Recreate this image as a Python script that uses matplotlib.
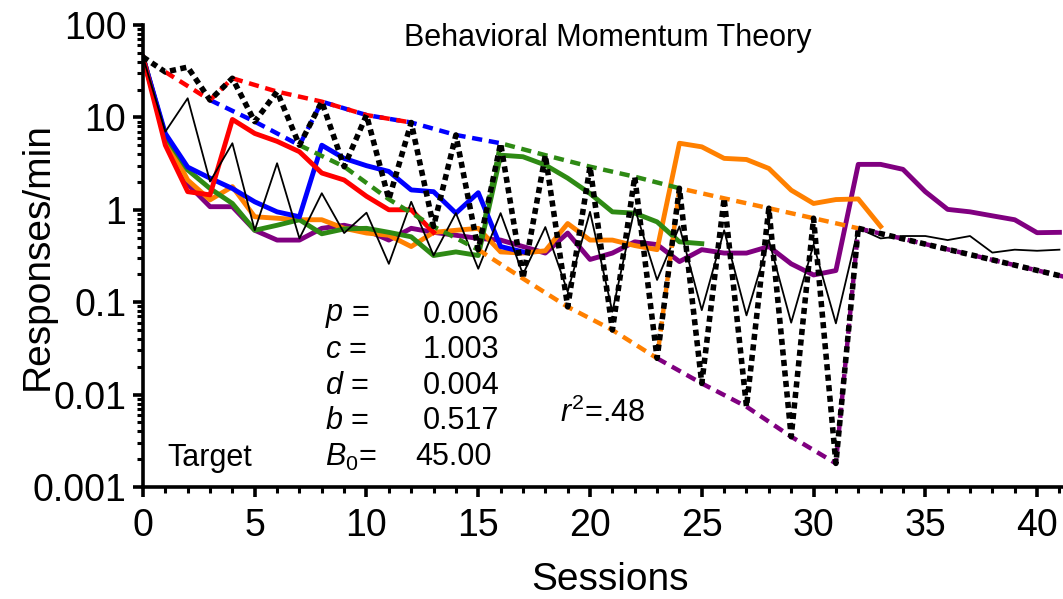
import matplotlib
matplotlib.use('Agg')
import matplotlib.pyplot as plt
from matplotlib.ticker import MultipleLocator, LogLocator, NullFormatter, FixedFormatter, FixedLocator

plt.rcParams['font.family'] = ['Liberation Sans', 'DejaVu Sans']
plt.rcParams['mathtext.fontset'] = 'custom'
plt.rcParams['mathtext.rm'] = 'Liberation Sans'
plt.rcParams['mathtext.it'] = 'Liberation Sans:italic'

# ── data ─────────────────────────────────────────────────────────────────────
sessions = list(range(42))

red = [45, 5.0, 1.57, 1.45, 9.5, 6.7, 5.5, 4.25, 2.5, 2.1, 1.4, 1.0, 1.0, 0.57]
blue = [45, 6.7, 2.9, 2.2, 1.7, 1.22, 0.95, 0.84, 5.0, 3.6, 3.0, 2.6, 1.64,
        1.57, 0.92, 1.53, 0.40, 0.35]
green = [45, 6.3, 2.7, 1.7, 1.17, 0.60, 0.68, 0.78, 0.55, 0.62, 0.63, 0.57,
         0.51, 0.32, 0.35, 0.32, 3.9, 3.75, 3.05, 2.2, 1.5, 0.95, 0.92, 0.74,
         0.45, 0.43]
orange = [45, 6.0, 2.1, 1.28, 1.78, 0.84, 0.81, 0.78, 0.78, 0.63, 0.56, 0.53,
          0.40, 0.57, 0.60, 0.63, 0.35, 0.34, 0.36, 0.71, 0.47, 0.47, 0.41,
          0.37, 5.25, 4.8, 3.6, 3.5, 2.8, 1.63, 1.17, 1.29, 1.31, 0.66]
purple = [45, 6.2, 1.9, 1.08, 1.08, 0.60, 0.47, 0.47, 0.63, 0.68, 0.60, 0.47,
          0.63, 0.57, 0.53, 0.49, 0.47, 0.40, 0.34, 0.56, 0.29, 0.34, 0.45,
          0.42, 0.275, 0.37, 0.34, 0.34, 0.40, 0.26, 0.197, 0.22, 3.1, 3.1,
          2.74, 1.57, 1.01, 0.95, 0.86, 0.78, 0.565, 0.57]
target = [45, 7.0, 16.1, 2.02, 5.25, 0.60, 3.19, 0.49, 1.51, 0.56, 0.93, 0.26,
          1.22, 0.32, 0.92, 0.23, 0.92, 0.20, 0.65, 0.13, 0.95, 0.079, 1.04,
          0.174, 0.66, 0.082, 0.60, 0.072, 0.47, 0.060, 0.42, 0.059, 0.63,
          0.49, 0.52, 0.52, 0.47, 0.52, 0.344, 0.37, 0.36, 0.37]

# model prediction, sessions 0..32, then straight tail
model = [45, 31, 35, 15.4, 26.5, 9.0, 19, 5.0, 14.8, 2.93, 10.6, 1.3, 8.8,
         0.66, 6.45, 0.37, 5.25, 0.18, 3.9, 0.089, 2.93, 0.05, 2.28, 0.0247,
         1.71, 0.0132, 1.33, 0.0074, 1.04, 0.0035, 0.81, 0.0018, 0.63]
tail_x = [32, 42]
tail_y = [0.63, 0.17]

# sessions of the model each coloured dashed curve passes through
red_path = [1, 3, 4, 6, 8, 10, 12]
blue_path = [3, 5, 7, 8, 10, 12, 14, 16]
green_path = [7, 9, 11, 13, 15, 16, 18, 20, 22, 24]
orange_path = [15, 17, 19, 21, 23, 24, 26, 28, 30, 32]
purple_path = [23, 25, 27, 29, 31, 32]

params = [('$p$ =', '0.006'), ('$c$ =', '1.003'), ('$d$ =', '0.004'),
          ('$b$ =', '0.517'), (r'$B_{\mathit{0}}$=', '45.00')]

C = {'red': '#FF0000', 'blue': '#0000FF', 'green': '#2E8A14',
     'orange': '#FF8000', 'purple': '#800080'}

# ── canvas ───────────────────────────────────────────────────────────────────
fig = plt.figure(figsize=(10.63, 5.99), dpi=100)
ax = fig.add_axes([0.1345, 0.187, 0.8655, 0.7713])
ax.set_yscale('log')
ax.set_xlim(0, 41.16)
ax.set_ylim(0.001, 100)

# data lines
for key, ys in [('purple', purple), ('orange', orange), ('green', green),
                ('blue', blue), ('red', red)]:
    ax.plot(sessions[:len(ys)], ys, color=C[key], lw=3.5, zorder=3,
            solid_joinstyle='round')
ax.plot(sessions, target, color='black', lw=1.3, zorder=4)

# model curves (dashed, colour per phase)
dash = (0, (2.3, 1.5))
ax.plot(tail_x, tail_y, color=C['purple'], lw=3.2, ls=dash, zorder=5)
for key, path in [('purple', purple_path), ('orange', orange_path),
                  ('green', green_path), ('blue', blue_path),
                  ('red', red_path)]:
    ax.plot(path, [model[s] for s in path], color=C[key], lw=3.2, ls=dash,
            zorder=5)

# model zig-zag (black dotted)
dot = (0, (1.1, 0.8))
ax.plot(sessions[:len(model)], model, color='black', lw=4.0, ls=dot, zorder=6)
ax.plot(tail_x, tail_y, color='black', lw=4.0, ls=dot, zorder=6)

# ── axes styling ─────────────────────────────────────────────────────────────
for side in ('top', 'right'):
    ax.spines[side].set_visible(False)
for side in ('left', 'bottom'):
    ax.spines[side].set_linewidth(2.6)
    ax.spines[side].set_zorder(7)

ax.xaxis.set_major_locator(MultipleLocator(5))
ax.xaxis.set_minor_locator(MultipleLocator(1))
ax.yaxis.set_major_locator(FixedLocator([0.001, 0.01, 0.1, 1, 10, 100]))
ax.yaxis.set_major_formatter(FixedFormatter(['0.001', '0.01', '0.1', '1', '10', '100']))
ax.yaxis.set_minor_locator(LogLocator(base=10, subs=range(2, 10), numticks=20))
ax.yaxis.set_minor_formatter(NullFormatter())
ax.tick_params(which='major', length=7, width=2.6, labelsize=27)
ax.tick_params(which='minor', length=4.5, width=2.2)
ax.tick_params(axis='x', which='major', pad=8)
ax.tick_params(axis='y', which='major', pad=5)

ax.set_xlabel('Sessions', fontsize=28, va='center')
ax.xaxis.set_label_coords(0.508, -0.201)
ax.set_ylabel('Responses/min', fontsize=28, va='center')
ax.yaxis.set_label_coords(-0.114, 0.5)

# ── texts ────────────────────────────────────────────────────────────────────
ax.text(0.505, 0.972, 'Behavioral Momentum Theory', transform=ax.transAxes,
        ha='center', va='center', fontsize=22)

rows = [0.372, 0.297, 0.219, 0.143, 0.065]
for (lab, val), yy in zip(params, rows):
    ax.text(0.198, yy, lab, transform=ax.transAxes, ha='left', va='center',
            fontsize=22)
    ax.text(0.296 if val == '45.00' else 0.304, yy, val,
            transform=ax.transAxes, ha='left', va='center', fontsize=22)
ax.text(0.027, 0.063, 'Target', transform=ax.transAxes, ha='left',
        va='center', fontsize=22)
ax.text(0.453, 0.16, '$r^2$=.48', transform=ax.transAxes, ha='left',
        va='center', fontsize=22)

fig.savefig('out.png', dpi=100, facecolor='white')
